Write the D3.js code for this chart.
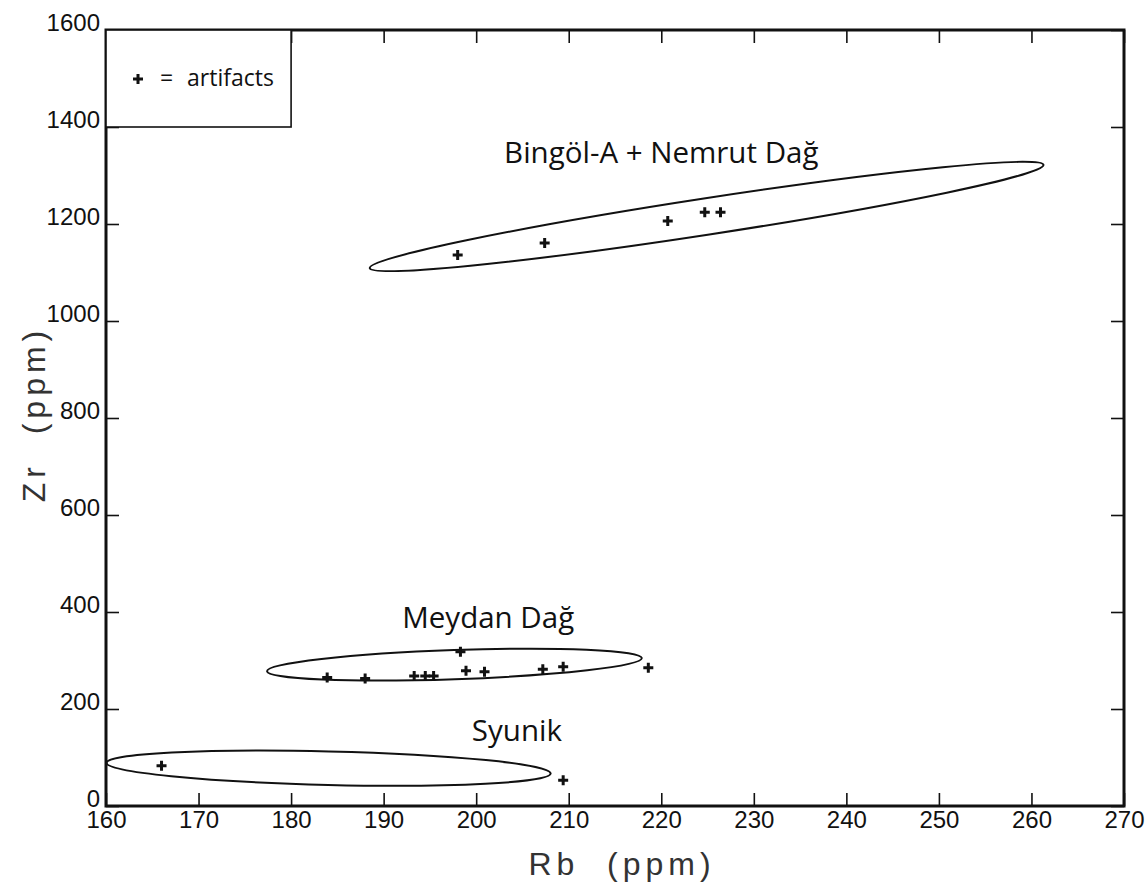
<html>

<head>
  <title>Rb vs Zr - obsidian sources</title>
  <script src="https://d3js.org/d3.v7.min.js"></script>

  <style>
    body {
      margin: 0;
      background: white;
    }

    .axis text {
      font-family: "Liberation Sans", Arial, sans-serif;
      font-size: 24px;
      fill: #111;
    }

    .axis line {
      stroke: #111;
      stroke-width: 1.6;
    }

    .axis .domain {
      stroke: none;
    }

    .label {
      font-family: "Open Sans", sans-serif;
      font-size: 29.5px;
      fill: #111;
    }

    .title {
      font-family: "Liberation Sans", Arial, sans-serif;
      font-size: 32px;
      letter-spacing: 5px;
      white-space: pre;
      fill: #333;
    }
  </style>
</head>

<body>
  <svg id="scatterplot" width="1146" height="882"></svg>

  <script>

    // ---- data
    // artifact points, Rb and Zr in ppm
    const bingolRb = [198.0, 207.4, 220.7, 224.7, 226.4];
    const bingolZr = [1136, 1161, 1206, 1224, 1224];

    const meydanRb = [183.9, 188.0, 193.3, 194.5, 195.4, 198.3, 198.9, 200.9, 207.2, 209.4, 218.6];
    const meydanZr = [265, 263, 268, 268, 268, 318, 279, 277, 282, 287, 285];

    const syunikRb = [166.0, 209.4];
    const syunikZr = [83, 53];

    // source ellipses: left tip, right tip (Rb, Zr) and thickness in Zr units
    const sourceNames = ["Bingöl-A + Nemrut Dağ", "Meydan Dağ", "Syunik"];
    const ellipseLeft = [[188.5, 1109], [177.4, 278], [160.05, 89]];
    const ellipseRight = [[261.3, 1322], [217.9, 305], [208.05, 67]];
    const ellipseThick = [75, 60, 69];
    const labelAt = [[220.0, 1325], [201.3, 367], [204.4, 134]];

    // axis ticks
    const rbTicks = [160, 170, 180, 190, 200, 210, 220, 230, 240, 250, 260, 270];
    const zrTicks = [0, 200, 400, 600, 800, 1000, 1200, 1400, 1600];


    const svg = d3.select("svg#scatterplot");
    const width = svg.attr("width");
    const height = svg.attr("height");
    const margin = { top: 30, right: 22, bottom: 76, left: 106 };

    const chartWidth = width - margin.left - margin.right;
    const chartHeight = height - margin.top - margin.bottom;

    const rbScale = d3.scaleLinear().domain([160, 270]).range([margin.left, margin.left + chartWidth]);
    const zrScale = d3.scaleLinear().domain([0, 1600]).range([margin.top + chartHeight, margin.top]);

    const tickLen = 13;

    // Axes - ticks point into the plot, so use negative tick sizes
    let bottomAxis = d3.axisBottom(rbScale).tickValues(rbTicks)
      .tickSizeInner(-tickLen).tickSizeOuter(0).tickPadding(5)
      .tickFormat(d3.format("d"));
    svg.append("g").attr("class", "axis")
      .attr("transform", `translate(0, ${zrScale(0)})`)
      .call(bottomAxis);

    let topAxis = d3.axisTop(rbScale).tickValues(rbTicks)
      .tickSizeInner(-tickLen).tickSizeOuter(0).tickFormat("");
    svg.append("g").attr("class", "axis")
      .attr("transform", `translate(0, ${zrScale(1600)})`)
      .call(topAxis);

    let leftAxis = d3.axisLeft(zrScale).tickValues(zrTicks)
      .tickSizeInner(-tickLen).tickSizeOuter(0).tickPadding(6)
      .tickFormat(d3.format("d"));
    svg.append("g").attr("class", "axis")
      .attr("transform", `translate(${rbScale(160)}, 0)`)
      .call(leftAxis)
      .selectAll("text").attr("dy", "0");   // numbers sit on the tick

    let rightAxis = d3.axisRight(zrScale).tickValues(zrTicks)
      .tickSizeInner(-tickLen).tickSizeOuter(0).tickFormat("");
    svg.append("g").attr("class", "axis")
      .attr("transform", `translate(${rbScale(270)}, 0)`)
      .call(rightAxis);

    // heavy frame
    svg.append("rect")
      .attr("x", rbScale(160)).attr("y", zrScale(1600))
      .attr("width", rbScale(270) - rbScale(160))
      .attr("height", zrScale(0) - zrScale(1600))
      .attr("fill", "none").attr("stroke", "#111").attr("stroke-width", 3);

    // axis titles
    svg.append("text").attr("class", "title")
      .attr("x", (rbScale(160) + rbScale(270)) / 2 + 7)
      .attr("y", 875)
      .attr("text-anchor", "middle")
      .text("Rb  (ppm)");

    svg.append("text").attr("class", "title")
      .attr("transform", `translate(45, ${(zrScale(0) + zrScale(1600)) / 2 - 4}) rotate(-90)`)
      .attr("text-anchor", "middle")
      .text("Zr  (ppm)");


    // source ellipses, built in pixel space from the data tips
    sourceNames.forEach((name, i) => {
      let x1 = rbScale(ellipseLeft[i][0]), y1 = zrScale(ellipseLeft[i][1]);
      let x2 = rbScale(ellipseRight[i][0]), y2 = zrScale(ellipseRight[i][1]);
      let cx = (x1 + x2) / 2, cy = (y1 + y2) / 2;
      let rx = Math.hypot(x2 - x1, y2 - y1) / 2;
      let ry = (zrScale(0) - zrScale(ellipseThick[i])) / 2;
      let angle = Math.atan2(y2 - y1, x2 - x1) * 180 / Math.PI;

      svg.append("ellipse")
        .attr("cx", cx).attr("cy", cy)
        .attr("rx", rx).attr("ry", ry)
        .attr("transform", `rotate(${angle}, ${cx}, ${cy})`)
        .attr("fill", "none")
        .attr("stroke", "#111")
        .attr("stroke-width", 2);

      svg.append("text").attr("class", "label")
        .attr("x", rbScale(labelAt[i][0]))
        .attr("y", zrScale(labelAt[i][1]))
        .attr("text-anchor", "middle")
        .text(name);
    });


    // plus markers
    const plus = "M-5,0H5M0,-5V5";
    function drawPluses(rb, zr) {
      rb.forEach((v, i) => {
        svg.append("path")
          .attr("d", plus)
          .attr("transform", `translate(${rbScale(v)}, ${zrScale(zr[i])})`)
          .attr("stroke", "#111")
          .attr("stroke-width", 3)
          .attr("fill", "none");
      });
    }
    drawPluses(bingolRb, bingolZr);
    drawPluses(meydanRb, meydanZr);
    drawPluses(syunikRb, syunikZr);


    // legend box in the top-left corner
    svg.append("rect")
      .attr("x", rbScale(160)).attr("y", zrScale(1600))
      .attr("width", rbScale(180) - rbScale(160))
      .attr("height", zrScale(1400) - zrScale(1600))
      .attr("fill", "white").attr("stroke", "#111").attr("stroke-width", 1.6);

    svg.append("path")
      .attr("d", plus)
      .attr("transform", "translate(138, 79)")
      .attr("stroke", "#111").attr("stroke-width", 3);

    let legendText = svg.append("g")
      .style("font-family", "Open Sans, sans-serif")
      .style("font-size", "23px")
      .attr("fill", "#111");
    legendText.append("text").attr("x", 160).attr("y", 86).text("=");
    legendText.append("text").attr("x", 187).attr("y", 86).text("artifacts");

  </script>
</body>

</html>
